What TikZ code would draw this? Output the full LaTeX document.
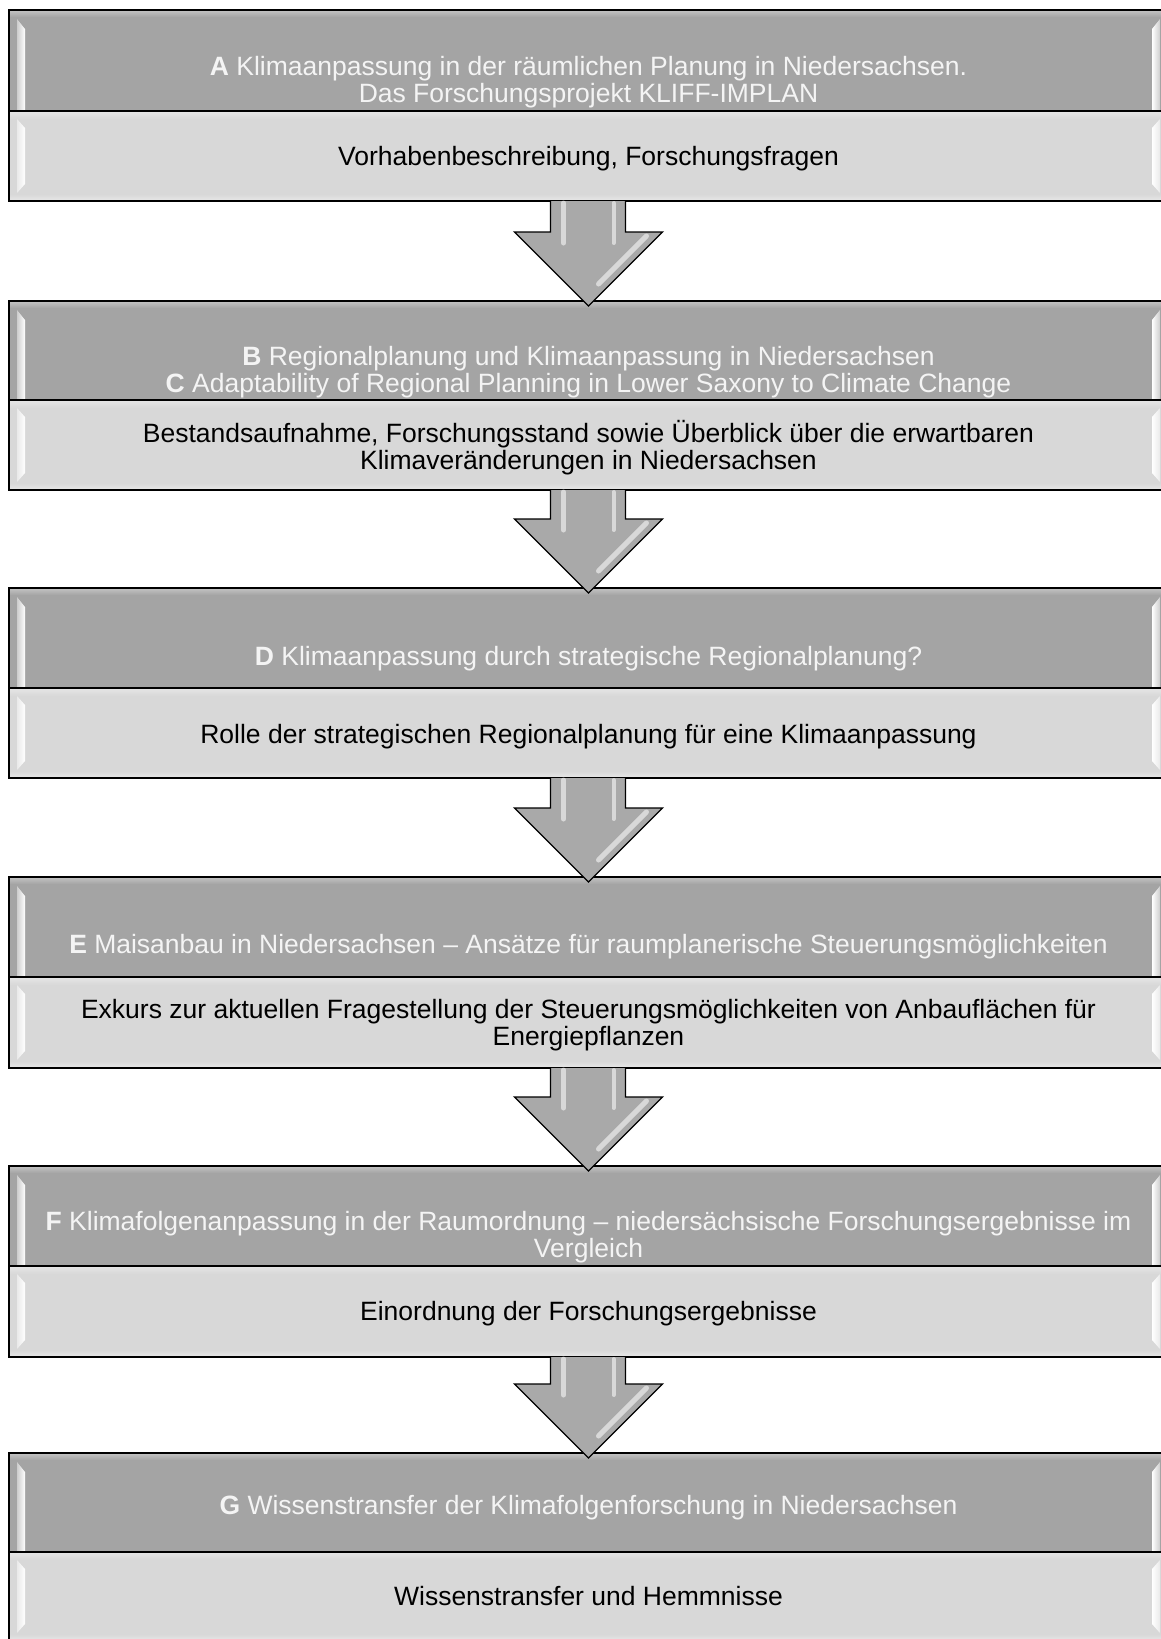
\documentclass[tikz,border=0pt]{standalone}
\usepackage{fontspec}
\setmainfont{Liberation Sans}
\usetikzlibrary{calc}
\definecolor{darkfill}{HTML}{A4A4A4}
\definecolor{lightfill}{HTML}{D8D8D8}
\definecolor{headtext}{HTML}{F4F4F4}
\definecolor{arrowfill}{HTML}{A9A9A9}
\tikzset{
  hd/.style={anchor=base, text=headtext, inner sep=0pt, font=\fontsize{26.5}{27}\selectfont},
  bd/.style={anchor=base, text=black, inner sep=0pt, font=\fontsize{26.5}{27}\selectfont},
  headbox/.style={rectangle, fill=darkfill, minimum width=1159pt, inner sep=0pt, outer sep=0pt},
  bodybox/.style={rectangle, fill=lightfill, minimum width=1159pt, inner sep=0pt, outer sep=0pt},
  edgeline/.style={draw=black, line width=1.6pt},
  arrowline/.style={draw=black, line width=1.3pt, line join=miter},
  glint/.style={white, opacity=0.55, line cap=round},
}
\newcommand\blk[4]{%
  \pgfmathsetmacro\hc{(#2+#3)/2}%
  \pgfmathsetmacro\hh{#3-#2}%
  \pgfmathsetmacro\bc{(#3+#4)/2}%
  \pgfmathsetmacro\bh{#4-#3}%
  \node[headbox, minimum height=\hh pt] (#1h) at (588.5,\hc) {};
  \node[bodybox, minimum height=\bh pt] (#1b) at (588.5,\bc) {};
  \shade[top color=white!35!darkfill, bottom color=darkfill] (9,#2) rectangle (1168,#2+7);
  \shade[left color=white!45!darkfill, right color=white] (17,#2+9) -- (25,#2+19) -- (25,#3) -- (17,#3) -- cycle;
  \shade[left color=white, right color=white!45!darkfill] (1152,#2+19) -- (1160,#2+9) -- (1160,#3) -- (1152,#3) -- cycle;
  \shade[top color=white!35!lightfill, bottom color=lightfill] (9,#3) rectangle (1168,#3+8);
  \shade[top color=lightfill, bottom color=white!40!lightfill] (9,#4-7) rectangle (1168,#4);
  \shade[left color=white!45!lightfill, right color=white] (17,#3+8) -- (25,#3+17) -- (25,#4-17) -- (17,#4-8) -- cycle;
  \shade[left color=white, right color=white!45!lightfill] (1152,#3+17) -- (1160,#3+8) -- (1160,#4-8) -- (1152,#4-17) -- cycle;
  \draw[edgeline] (#1h.north west) rectangle (#1b.south east);
  \draw[edgeline] (#1h.south west) -- (#1h.south east);
}
\newcommand\arr[2]{%
  \fill[arrowfill] let \p1=(#1b.south), \p2=(#2h.north) in
    (\x1-38pt,\y1) -- (\x1-38pt,\y2+69pt) -- (\x1-74pt,\y2+69pt) -- (\x2,\y2-5pt)
    -- (\x1+74pt,\y2+69pt) -- (\x1+37pt,\y2+69pt) -- (\x1+37pt,\y1) -- cycle;
  \draw[glint, line width=5pt] let \p1=(#1b.south), \p2=(#2h.north) in
    (\x1-25pt,\y1-2pt) -- (\x1-25pt,\y2+58pt);
  \draw[glint, line width=4pt] let \p1=(#1b.south), \p2=(#2h.north) in
    (\x1+25pt,\y1-2pt) -- (\x1+25pt,\y2+58pt);
  \draw[glint, line width=5pt] let \p1=(#1b.south), \p2=(#2h.north) in
    (\x2+58pt,\y2+65pt) -- (\x2+10pt,\y2+17pt);
  \draw[arrowline] let \p1=(#1b.south), \p2=(#2h.north) in
    (\x1-38pt,\y1) -- (\x1-38pt,\y2+69pt) -- (\x1-74pt,\y2+69pt) -- (\x2,\y2-5pt)
    -- (\x1+74pt,\y2+69pt) -- (\x1+37pt,\y2+69pt) -- (\x1+37pt,\y1);
}
\begin{document}
\begin{tikzpicture}[x=1pt, y=-1pt]
\useasboundingbox[fill=white] (0,0) rectangle (1160,1639);

\blk{A}{10}{111}{201}
\blk{B}{301}{400}{490}
\blk{D}{588}{688}{778}
\blk{E}{877}{977}{1068}
\blk{F}{1166}{1266}{1357}
\blk{G}{1453}{1552}{1641}

\arr{A}{B}
\arr{B}{D}
\arr{D}{E}
\arr{E}{F}
\arr{F}{G}

\node[hd] (At1) at (588.5,75) {\textbf{A} Klimaanpassung in der räumlichen Planung in Niedersachsen.};
\node[hd] (At2) at (588.5,102) {Das Forschungsprojekt KLIFF-IMPLAN};
\node[bd] (Ab1) at (588.5,165) {Vorhabenbeschreibung, Forschungsfragen};

\node[hd] (Bt1) at (588.5,365) {\textbf{B} Regionalplanung und Klimaanpassung in Niedersachsen};
\node[hd] (Bt2) at (588.5,392) {\textbf{C} Adaptability of Regional Planning in Lower Saxony to Climate Change};
\node[bd] (Bb1) at (588.5,442) {Bestandsaufnahme, Forschungsstand sowie Überblick über die erwartbaren};
\node[bd] (Bb2) at (588.5,469) {Klimaveränderungen in Niedersachsen};

\node[hd] (Dt1) at (588.5,665) {\textbf{D} Klimaanpassung durch strategische Regionalplanung?};
\node[bd] (Db1) at (588.5,743) {Rolle der strategischen Regionalplanung für eine Klimaanpassung};

\node[hd] (Et1) at (588.5,953) {\textbf{E} Maisanbau in Niedersachsen – Ansätze für raumplanerische Steuerungsmöglichkeiten};
\node[bd] (Eb1) at (588.5,1018) {Exkurs zur aktuellen Fragestellung der Steuerungsmöglichkeiten von Anbauflächen für};
\node[bd] (Eb2) at (588.5,1045) {Energiepflanzen};

\node[hd] (Ft1) at (588.5,1230) {\textbf{F} Klimafolgenanpassung in der Raumordnung – niedersächsische Forschungsergebnisse im};
\node[hd] (Ft2) at (588.5,1257) {Vergleich};
\node[bd] (Fb1) at (588.5,1320) {Einordnung der Forschungsergebnisse};

\node[hd] (Gt1) at (588.5,1514) {\textbf{G} Wissenstransfer der Klimafolgenforschung in Niedersachsen};
\node[bd] (Gb1) at (588.5,1605) {Wissenstransfer und Hemmnisse};
\end{tikzpicture}
\end{document}
